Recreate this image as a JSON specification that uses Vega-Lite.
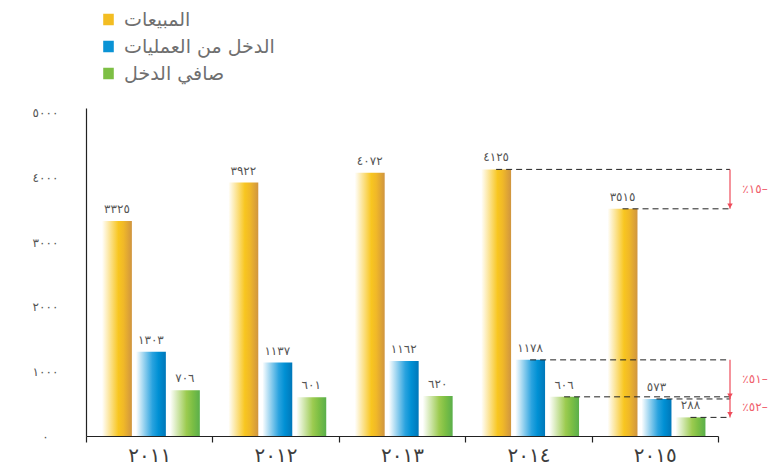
{
  "$schema": "https://vega.github.io/schema/vega-lite/v6.json",
  "width": 632,
  "height": 328,
  "autosize": "none",
  "padding": {"left": 86, "top": 108, "right": 55, "bottom": 35},
  "background": "white",
  "config": {"view": {"stroke": null}, "font": "DejaVu Sans"},
  "datasets": {
    "main": [
      {"year": "2011", "series": "المبيعات", "value": 3325},
      {"year": "2011", "series": "الدخل من العمليات", "value": 1303},
      {"year": "2011", "series": "صافي الدخل", "value": 706},
      {"year": "2012", "series": "المبيعات", "value": 3922},
      {"year": "2012", "series": "الدخل من العمليات", "value": 1137},
      {"year": "2012", "series": "صافي الدخل", "value": 601},
      {"year": "2013", "series": "المبيعات", "value": 4072},
      {"year": "2013", "series": "الدخل من العمليات", "value": 1162},
      {"year": "2013", "series": "صافي الدخل", "value": 620},
      {"year": "2014", "series": "المبيعات", "value": 4125},
      {"year": "2014", "series": "الدخل من العمليات", "value": 1178},
      {"year": "2014", "series": "صافي الدخل", "value": 606},
      {"year": "2015", "series": "المبيعات", "value": 3515},
      {"year": "2015", "series": "الدخل من العمليات", "value": 573},
      {"year": "2015", "series": "صافي الدخل", "value": 288}
    ],
    "arrows": [
      {"from": 4125, "to": 3515, "label": "٪١٥–"},
      {"from": 1178, "to": 573, "label": "٪٥١–"},
      {"from": 606, "to": 288, "label": "٪٥٢–"}
    ]
  },
  "layer": [
    {
      "data": {"name": "main"},
      "mark": {"type": "bar", "opacity": 0},
      "encoding": {
        "x": {
          "field": "year", "type": "nominal", "title": null,
          "scale": {"domain": ["2011", "2012", "2013", "2014", "2015"], "paddingInner": 0, "paddingOuter": 0},
          "axis": {
            "domainColor": "#222222", "domainWidth": 1.2,
            "tickBand": "extent", "tickColor": "#222222", "tickSize": 6, "tickWidth": 1.2,
            "labelAngle": 0, "labelFontSize": 20, "labelColor": "#3d3d3d", "labelPadding": 3,
            "labelFont": "DejaVu Sans",
            "labelExpr": "replace(replace(replace(replace(replace(replace(replace(replace(replace(replace(datum.label,regexp('0','g'),'٠'),regexp('1','g'),'١'),regexp('2','g'),'٢'),regexp('3','g'),'٣'),regexp('4','g'),'٤'),regexp('5','g'),'٥'),regexp('6','g'),'٦'),regexp('7','g'),'٧'),regexp('8','g'),'٨'),regexp('9','g'),'٩')"
          }
        },
        "xOffset": {
          "field": "series", "type": "nominal",
          "scale": {"domain": ["المبيعات", "الدخل من العمليات", "صافي الدخل"], "paddingInner": 0.12, "paddingOuter": 0.42, "align": 0.56}
        },
        "y": {
          "field": "value", "type": "quantitative", "title": null,
          "scale": {"domain": [0, 5075], "nice": false},
          "axis": {
            "values": [0, 1000, 2000, 3000, 4000, 5000], "format": "d", "grid": false,
            "ticks": false, "domainColor": "#222222", "domainWidth": 1.2,
            "labelAlign": "center", "labelPadding": 41, "labelFontSize": 12, "labelColor": "#555555",
            "labelFont": "DejaVu Sans",
            "labelExpr": "replace(replace(replace(replace(replace(replace(replace(replace(replace(replace(datum.label,regexp('0','g'),'٠'),regexp('1','g'),'١'),regexp('2','g'),'٢'),regexp('3','g'),'٣'),regexp('4','g'),'٤'),regexp('5','g'),'٥'),regexp('6','g'),'٦'),regexp('7','g'),'٧'),regexp('8','g'),'٨'),regexp('9','g'),'٩')"
          }
        },
        "color": {
          "field": "series", "type": "nominal",
          "scale": {"domain": ["المبيعات", "الدخل من العمليات", "صافي الدخل"], "range": ["#f3bd22", "#0a93d5", "#7dbf44"]},
          "legend": {
            "orient": "none", "legendX": 11, "legendY": -100, "title": null,
            "symbolOpacity": 1, "symbolStrokeWidth": 0, "symbolStrokeColor": "transparent",
            "symbolType": "M-0.46,-0.5H0.46V0.5H-0.46Z", "symbolSize": 529,
            "labelFontSize": 19, "labelColor": "#6f6f6f", "labelLimit": 400,
            "labelFont": "DejaVu Sans", "labelOffset": 4, "rowPadding": 5, "padding": 0
          }
        }
      }
    },
    {
      "data": {"name": "main"},
      "transform": [{"filter": "datum.series === 'المبيعات'"}],
      "mark": {"type": "bar", "color": {"gradient": "linear", "stops": [{"offset": 0, "color": "#ffffff"}, {"offset": 0.55, "color": "#f8c620"}, {"offset": 0.72, "color": "#f0b828"}, {"offset": 1, "color": "#d09540"}]}},
      "encoding": {
        "x": {"field": "year", "type": "nominal", "title": null},
        "xOffset": {"field": "series", "type": "nominal"},
        "y": {"field": "value", "type": "quantitative", "title": null}
      }
    },
    {
      "data": {"name": "main"},
      "transform": [{"filter": "datum.series === 'الدخل من العمليات'"}],
      "mark": {"type": "bar", "color": {"gradient": "linear", "stops": [{"offset": 0, "color": "#ffffff"}, {"offset": 0.55, "color": "#2aa3df"}, {"offset": 0.75, "color": "#0090d4"}, {"offset": 1, "color": "#0077b9"}]}},
      "encoding": {
        "x": {"field": "year", "type": "nominal", "title": null},
        "xOffset": {"field": "series", "type": "nominal"},
        "y": {"field": "value", "type": "quantitative", "title": null}
      }
    },
    {
      "data": {"name": "main"},
      "transform": [{"filter": "datum.series === 'صافي الدخل'"}],
      "mark": {"type": "bar", "color": {"gradient": "linear", "stops": [{"offset": 0, "color": "#ffffff"}, {"offset": 0.55, "color": "#9ccb50"}, {"offset": 0.75, "color": "#7dbf44"}, {"offset": 1, "color": "#5aaf4b"}]}},
      "encoding": {
        "x": {"field": "year", "type": "nominal", "title": null},
        "xOffset": {"field": "series", "type": "nominal"},
        "y": {"field": "value", "type": "quantitative", "title": null}
      }
    },
    {
      "data": {"name": "main"},
      "transform": [{"calculate": "replace(replace(replace(replace(replace(replace(replace(replace(replace(replace(toString(datum.value),regexp('0','g'),'٠'),regexp('1','g'),'١'),regexp('2','g'),'٢'),regexp('3','g'),'٣'),regexp('4','g'),'٤'),regexp('5','g'),'٥'),regexp('6','g'),'٦'),regexp('7','g'),'٧'),regexp('8','g'),'٨'),regexp('9','g'),'٩')", "as": "lbl"}],
      "mark": {"type": "text", "dy": -5, "baseline": "bottom", "fontSize": 12, "color": "#555555", "font": "DejaVu Sans"},
      "encoding": {
        "x": {"field": "year", "type": "nominal", "title": null},
        "xOffset": {"field": "series", "type": "nominal"},
        "y": {"field": "value", "type": "quantitative", "title": null},
        "text": {"field": "lbl"}
      }
    },
    {
      "data": {"name": "main"},
      "transform": [{"filter": "datum.year === '2014' || datum.year === '2015'"}],
      "mark": {"type": "rule", "strokeDash": [6, 4], "color": "#222222", "strokeWidth": 1, "x2Offset": 12},
      "encoding": {
        "x": {"field": "year", "type": "nominal", "title": null, "bandPosition": 1},
        "xOffset": {"field": "series", "type": "nominal"},
        "x2": {"value": "width"},
        "y": {"field": "value", "type": "quantitative", "title": null}
      }
    },
    {
      "data": {"name": "arrows"},
      "mark": {"type": "rule", "color": "#ee4b5a", "strokeWidth": 1.2, "xOffset": 12},
      "encoding": {
        "x": {"value": "width"},
        "y": {"field": "from", "type": "quantitative", "title": null},
        "y2": {"field": "to"}
      }
    },
    {
      "data": {"name": "arrows"},
      "mark": {"type": "point", "shape": "triangle-down", "filled": true, "color": "#ee4b5a", "size": 30, "opacity": 1, "xOffset": 12, "yOffset": -3},
      "encoding": {
        "x": {"value": "width"},
        "y": {"field": "to", "type": "quantitative", "title": null}
      }
    },
    {
      "data": {"name": "arrows"},
      "transform": [{"calculate": "(datum.from + datum.to) / 2", "as": "mid"}],
      "mark": {"type": "text", "color": "#f0606c", "fontSize": 12, "font": "DejaVu Sans", "align": "center", "baseline": "middle", "xOffset": 37},
      "encoding": {
        "x": {"value": "width"},
        "y": {"field": "mid", "type": "quantitative", "title": null},
        "text": {"field": "label"}
      }
    }
  ]
}
